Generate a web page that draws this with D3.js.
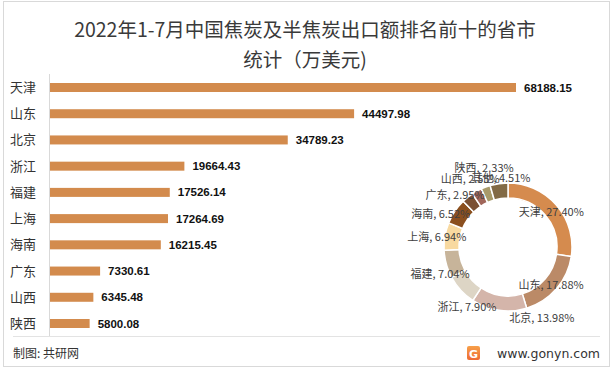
<!doctype html>
<html>
<head>
  <meta charset="utf8"/>
  <style>
    body { margin: 0; background: #fff; }
    text { font-family: "Noto Sans CJK SC", "Noto Sans", sans-serif; }
  </style>
</head>
<body>
  <svg width="613" height="370"></svg>
  <script src="https://d3js.org/d3.v7.min.js"></script>
  <script>
    // bar data (万美元)
    var provinces = ['天津', '山东', '北京', '浙江', '福建', '上海', '海南', '广东', '山西', '陕西'];
    var amounts = [68188.15, 44497.98, 34789.23, 19664.43, 17526.14, 17264.69, 16215.45, 7330.61, 6345.48, 5800.08];

    // donut shares (%)
    var pieNames = ['天津', '山东', '北京', '浙江', '福建', '上海', '海南', '广东', '山西', '陕西', '其他'];
    var pieShares = [27.40, 17.88, 13.98, 7.90, 7.04, 6.94, 6.52, 2.95, 2.55, 2.33, 4.51];
    var pieColors = ['#d58b4e', '#bb8a67', '#d4b5aa', '#ddd5c5', '#c7b49a', '#f8d9a0',
                     '#8b4f1e', '#7b5033', '#a0665a', '#a89a6a', '#826a45'];
    // nudges for the donut labels (excel "best fit" placement)
    var labelNudge = [[0, 2], [0, 1], [42, 15], [1, 22], [-13, 12], [-15, 0],
                      [-20, -1], [-17, -8], [-10, -18], [-4, -25], [1, -12]];

    var svg = d3.select('svg');

    // frame
    svg.append('rect')
       .attr('x', 3.5).attr('y', 1.5)
       .attr('width', 606).attr('height', 365)
       .attr('fill', 'none').attr('stroke', '#d9d9d9');

    svg.append('line')
       .attr('x1', 13).attr('x2', 600)
       .attr('y1', 336.5).attr('y2', 336.5)
       .attr('stroke', '#e3e3e3');

    // title
    var title = svg.append('text')
       .attr('text-anchor', 'middle')
       .attr('fill', '#3a3a3a')
       .style('font-size', '19.5px');
    title.append('tspan').attr('x', 305).attr('y', 37)
         .text('2022年1-7月中国焦炭及半焦炭出口额排名前十的省市');
    title.append('tspan').attr('x', 305).attr('y', 67)
         .text('统计（万美元)');

    // bars
    var x = d3.scaleLinear().domain([0, 68188.15]).range([50, 516]);
    var y = d3.scalePoint().domain(provinces).range([87.5, 323.5]);
    var barH = 9;

    svg.append('line')
       .attr('x1', 49.5).attr('x2', 49.5)
       .attr('y1', 74).attr('y2', 336)
       .attr('stroke', '#d9d9d9');

    var rows = svg.append('g').selectAll('g')
       .data(provinces)
       .join('g');

    rows.append('rect')
        .attr('x', x(0))
        .attr('y', function(d) { return y(d) - barH / 2; })
        .attr('width', function(d, i) { return x(amounts[i]) - x(0); })
        .attr('height', barH)
        .attr('fill', '#d38b4d');

    rows.append('text')
        .attr('x', 10)
        .attr('y', function(d) { return y(d); })
        .attr('dy', '0.35em')
        .attr('fill', '#333')
        .style('font-size', '13px')
        .text(function(d) { return d; });

    rows.append('text')
        .attr('x', function(d, i) { return x(amounts[i]) + 8; })
        .attr('y', function(d) { return y(d); })
        .attr('dy', '0.35em')
        .attr('fill', '#111')
        .style('font-family', '"Liberation Sans", Arial, sans-serif')
        .style('font-weight', 'bold')
        .style('font-size', '11.5px')
        .text(function(d, i) { return amounts[i].toFixed(2); });

    // donut
    var cx = 508, cy = 247, rOut = 64, rIn = 49;
    var pie = d3.pie().sort(null).value(function(d) { return d; });
    var arcs = pie(pieShares);
    var arc = d3.arc().innerRadius(rIn).outerRadius(rOut);
    var labelArc = d3.arc().innerRadius(57).outerRadius(57);

    var donut = svg.append('g').attr('transform', 'translate(' + cx + ',' + cy + ')');

    donut.selectAll('path')
         .data(arcs)
         .join('path')
         .attr('d', arc)
         .attr('fill', function(d, i) { return pieColors[i]; })
         .attr('stroke', '#fff')
         .attr('stroke-width', 1.5);

    donut.selectAll('text')
         .data(arcs)
         .join('text')
         .attr('transform', function(d, i) {
           var c = labelArc.centroid(d);
           return 'translate(' + (c[0] + labelNudge[i][0]) + ',' + (c[1] + labelNudge[i][1]) + ')';
         })
         .attr('text-anchor', 'middle')
         .attr('dy', '0.35em')
         .attr('fill', '#404040')
         .style('font-size', '11px')
         .text(function(d, i) { return pieNames[i] + ', ' + pieShares[i].toFixed(2) + '%'; });

    // footer
    svg.append('text')
       .attr('x', 13).attr('y', 358)
       .attr('fill', '#333')
       .style('font-size', '12px')
       .text('制图: 共研网');

    var grad = svg.append('defs').append('linearGradient')
       .attr('id', 'logo').attr('x1', 0).attr('y1', 0).attr('x2', 0).attr('y2', 1);
    grad.append('stop').attr('offset', 0).attr('stop-color', '#f7a04a');
    grad.append('stop').attr('offset', 1).attr('stop-color', '#ee6a32');

    svg.append('rect')
       .attr('x', 467).attr('y', 346)
       .attr('width', 13).attr('height', 14)
       .attr('rx', 2)
       .attr('fill', 'url(#logo)');
    svg.append('text')
       .attr('x', 473.5).attr('y', 357.5)
       .attr('text-anchor', 'middle')
       .attr('fill', '#fff')
       .style('font-family', '"DejaVu Sans", sans-serif')
       .style('font-weight', 'bold')
       .style('font-size', '11px')
       .text('G');

    svg.append('text')
       .attr('x', 600).attr('y', 358)
       .attr('text-anchor', 'end')
       .attr('fill', '#333')
       .style('font-family', '"DejaVu Sans", sans-serif')
       .style('font-size', '12.5px')
       .text('www.gonyn.com');
  </script>
</body>
</html>
